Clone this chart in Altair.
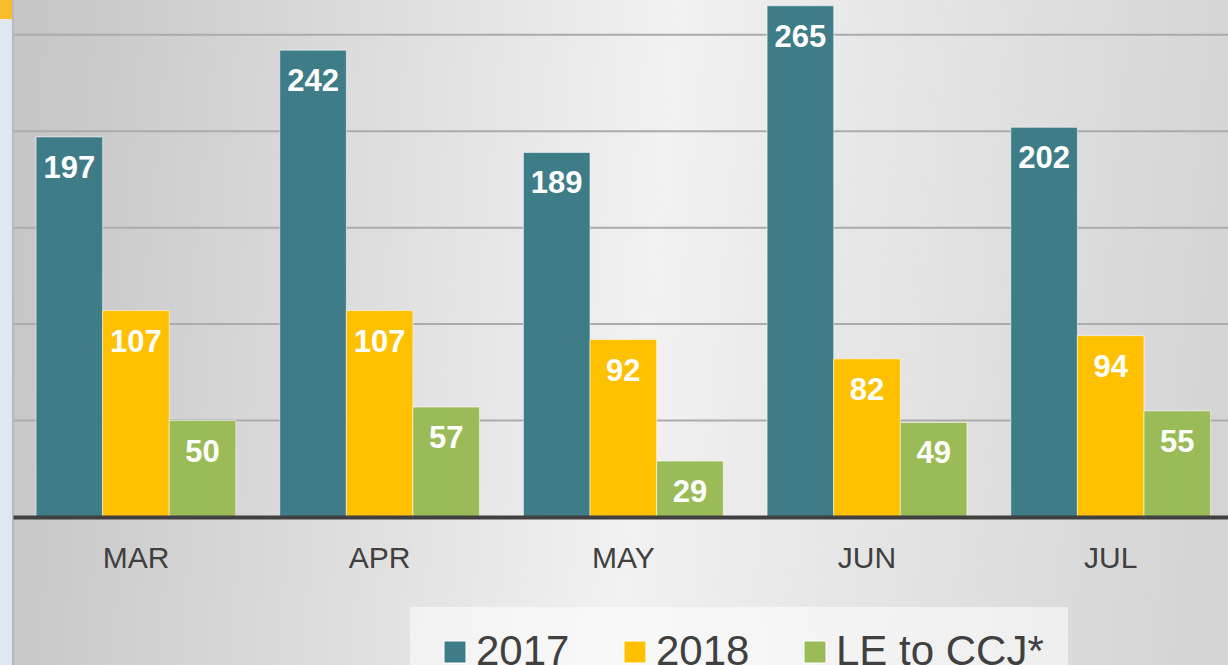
import altair as alt
import pandas as pd

# ---- data ----
months = ["MAR", "APR", "MAY", "JUN", "JUL"]
series = ["2017", "2018", "LE to CCJ*"]
v2017 = [197, 242, 189, 265, 202]
v2018 = [107, 107, 92, 82, 94]
v_le = [50, 57, 29, 49, 55]
grid_values = [50, 100, 150, 200, 250]
colors = ["#3e7c87", "#ffc000", "#9bbb59"]

FONT = "Liberation Sans, Arial, sans-serif"
W, H = 1215, 665
Y_DOMAIN = [-76.7, 268]

rows = []
for i, m in enumerate(months):
    for s, vals in zip(series, [v2017, v2018, v_le]):
        rows.append({"month": m, "series": s, "value": vals[i]})
df = pd.DataFrame(rows)
grid_df = pd.DataFrame({"v": grid_values})
one = pd.DataFrame({"a": [0]})

y_scale = alt.Scale(domain=Y_DOMAIN, nice=False, zero=False)

x_enc = alt.X(
    "month:N",
    sort=months,
    scale=alt.Scale(paddingInner=0.18, paddingOuter=0.083, align=0.57),
    axis=alt.Axis(
        title=None,
        labelAngle=0,
        labelFont=FONT,
        labelFontSize=30,
        labelColor="#404040",
        labelBaseline="top",
        labelPadding=26,
        ticks=False,
        tickSize=0,
        domainColor="#404040",
        domainWidth=4,
        grid=False,
        offset=-148,
        zindex=1,
    ),
)
xoff = alt.XOffset("series:N", sort=series, scale=alt.Scale(paddingInner=0, paddingOuter=0))

background = alt.Chart(one).mark_rect(
    fill=alt.Gradient(
        gradient="linear",
        x1=0, y1=0.45, x2=1, y2=0.5,
        stops=[
            alt.GradientStop(offset=0, color="#c6c6c6"),
            alt.GradientStop(offset=0.52, color="#f1f1f1"),
            alt.GradientStop(offset=1, color="#d4d4d4"),
        ],
    )
).encode(x=alt.value(0), x2=alt.value(W), y=alt.value(0), y2=alt.value(H))

corner = alt.Chart(one).mark_rect(fill="#fbbc2c").encode(
    x=alt.value(-13), x2=alt.value(-1), y=alt.value(0), y2=alt.value(19)
)

edge = alt.Chart(one).mark_rule(color="#b8b8b8", strokeWidth=2).encode(
    x=alt.value(0), y=alt.value(0), y2=alt.value(H)
)

gridlines = alt.Chart(grid_df).mark_rule(color="#ababab", strokeWidth=2).encode(
    y=alt.Y("v:Q", scale=y_scale, axis=None),
    x=alt.value(1),
    x2=alt.value(W),
)

bars = alt.Chart(df).mark_bar(
    stroke="#ffffff", strokeWidth=1, strokeOpacity=0.55
).encode(
    x=x_enc,
    xOffset=xoff,
    y=alt.Y("value:Q", scale=y_scale, axis=None),
    y2=alt.datum(0),
    color=alt.Color(
        "series:N",
        sort=series,
        scale=alt.Scale(domain=series, range=colors),
        legend=alt.Legend(
            title=None,
            orient="none",
            legendX=397,
            legendY=607,
            direction="horizontal",
            symbolType="square",
            symbolSize=484,
            symbolStrokeColor="#ffffff",
            symbolStrokeWidth=1,
            labelFont=FONT,
            labelFontSize=42,
            labelColor="#404040",
            labelOffset=0,
            labelLimit=500,
            columnPadding=44,
            fillColor="rgba(255,255,255,0.55)",
            padding=24,
        ),
    ),
)

labels = alt.Chart(df).mark_text(
    baseline="top", dy=17, fontSize=31, fontWeight="bold", color="white", font=FONT
).encode(
    x=x_enc,
    xOffset=xoff,
    y=alt.Y("value:Q", scale=y_scale, axis=None),
    text=alt.Text("value:Q"),
)

chart = (
    alt.layer(background, corner, edge, gridlines, bars, labels)
    .properties(
        width=W,
        height=H,
        background="#dfe8f0",
        padding={"left": 13, "top": 0, "right": 0, "bottom": 0},
        autosize=alt.AutoSizeParams(type="none"),
    )
    .configure_view(stroke=None)
)

chart.save("out.html", embed_options={"renderer": "svg", "actions": False})
